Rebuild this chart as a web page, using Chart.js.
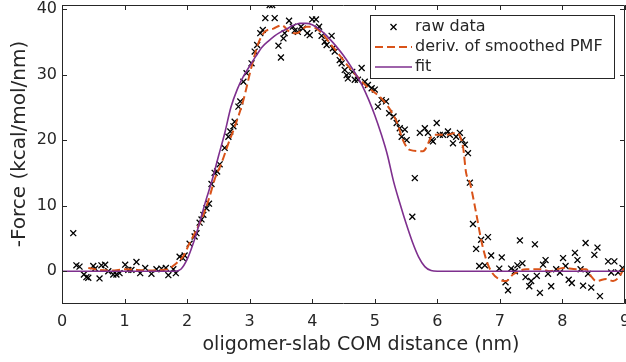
<!DOCTYPE html>
<html lang="en">
<head>
    <meta charset="UTF-8">
    <title>Force profile</title>
    <style>
        html, body { margin: 0; padding: 0; background: #fff; }
        canvas { display: block; }
    </style>
</head>
<body>
    <canvas id="myChart" width="626" height="362"></canvas>

    <script src="https://cdnjs.cloudflare.com/ajax/libs/Chart.js/4.4.1/chart.umd.js"></script>
    <script>
        // raw data (x in nm, y in kcal/mol/nm)
        var rawX = [0.18, 0.23, 0.28, 0.35, 0.39, 0.42, 0.50, 0.53, 0.60, 0.63, 0.69, 0.74, 0.82, 0.87, 0.92,
            1.01, 1.06, 1.11, 1.19, 1.25, 1.33, 1.43, 1.51, 1.59, 1.66, 1.70, 1.78, 1.82, 1.88, 1.93, 1.96,
            2.04, 2.12, 2.15, 2.20, 2.23, 2.26, 2.31, 2.35, 2.39, 2.44, 2.48, 2.52, 2.60, 2.66, 2.69, 2.74,
            2.76, 2.82, 2.85, 2.90, 2.95, 3.03, 3.08, 3.12, 3.17, 3.21, 3.25, 3.32, 3.36, 3.40, 3.46, 3.50,
            3.54, 3.56, 3.63, 3.69, 3.72, 3.77, 3.82, 3.85, 3.92, 3.96, 4.00, 4.06, 4.09, 4.11, 4.15, 4.20,
            4.23, 4.31, 4.33, 4.36, 4.44, 4.47, 4.52, 4.55, 4.57, 4.64, 4.68, 4.73, 4.79, 4.84, 4.89, 4.95,
            5.00, 5.05, 5.11, 5.18, 5.23, 5.30, 5.35, 5.40, 5.43, 5.48, 5.51, 5.60, 5.64, 5.72, 5.80, 5.85,
            5.91, 5.93, 5.99, 6.04, 6.09, 6.17, 6.20, 6.25, 6.30, 6.36, 6.40, 6.44, 6.49, 6.52, 6.57, 6.62,
            6.67, 6.70, 6.76, 6.81, 6.86, 6.99, 7.03, 7.09, 7.13, 7.18, 7.24, 7.28, 7.32, 7.36, 7.41, 7.47,
            7.50, 7.56, 7.59, 7.64, 7.69, 7.73, 7.77, 7.82, 7.90, 7.96, 8.01, 8.05, 8.10, 8.15, 8.20, 8.24,
            8.29, 8.33, 8.37, 8.41, 8.46, 8.51, 8.56, 8.60, 8.73, 8.78, 8.83, 8.89, 8.96];
        var rawY = [5.8, 0.9, 0.7, -0.5, -0.9, -1.0, 0.8, 0.4, -1.1, 0.9, 1.0, 0.0, -0.5, -0.5, -0.3,
            1.0, 0.2, 0.2, 1.4, -0.3, 0.5, -0.4, 0.3, 0.4, 0.5, -0.6, 0.3, -0.3, 2.2, 2.0, 2.4,
            4.2, 5.3, 5.8, 7.4, 7.9, 8.6, 9.6, 10.3, 13.3, 15.0, 15.2, 16.3, 18.8, 20.5, 21.3, 22.1,
            22.8, 25.1, 25.9, 28.9, 30.2, 31.7, 33.5, 34.5, 36.3, 36.8, 38.6, 40.6, 40.6, 38.6, 34.4, 32.6,
            35.5, 36.3, 38.2, 37.3, 36.7, 36.5, 37.3, 37.0, 36.3, 36.0, 38.4, 38.4, 37.0, 37.3, 35.9, 35.0,
            34.5, 35.9, 34.0, 33.5, 32.2, 31.7, 30.7, 29.9, 29.4, 30.4, 29.2, 29.2, 31.0, 28.9, 28.4, 27.9,
            27.7, 25.1, 26.1, 25.9, 24.1, 23.6, 22.6, 21.8, 20.5, 21.6, 20.0, 8.3, 14.2, 21.1, 21.8, 21.1,
            20.0, 19.8, 22.6, 20.8, 20.8, 21.3, 20.8, 19.5, 20.5, 21.1, 20.0, 19.3, 18.0, 13.5, 7.2, 3.4,
            0.8, 4.8, 0.9, 5.2, 2.4, 0.4, 2.1, -1.7, -2.9, 0.4, 0.0, 0.9, 4.7, 1.2, -0.9, -2.3,
            -1.5, 4.1, -0.7, -3.3, 1.0, 1.7, -0.4, -2.3, 0.3, -0.2, 2.0, 0.8, -1.3, -1.8, 2.8, 1.7,
            0.3, -2.2, 4.3, -0.4, -2.5, 2.5, 3.6, -3.8, 1.5, -0.2, 1.5, -0.2, 0.5];

        // derivative of smoothed PMF
        var derivX = [0.42, 0.6, 0.8, 1.0, 1.2, 1.4, 1.6, 1.7, 1.8, 1.86, 1.94, 2.04, 2.15, 2.26, 2.36, 2.44,
            2.55, 2.66, 2.76, 2.90, 3.03, 3.14, 3.24, 3.38, 3.51, 3.64, 3.75, 3.91, 4.07, 4.33, 4.60, 4.87,
            5.13, 5.35, 5.45, 5.56, 5.77, 5.94, 6.15, 6.30, 6.41, 6.46, 6.52, 6.62, 6.70, 6.78, 6.86, 7.00,
            7.10, 7.21, 7.42, 7.64, 7.80, 8.01, 8.22, 8.38, 8.46, 8.54, 8.70, 8.81, 8.91, 9.00];
        var derivY = [0.5, 0.2, 0.1, 0.3, 0.2, 0.1, 0.2, 0.3, 1.0, 1.5, 2.3, 4.3, 6.3, 8.6, 11.4, 14.0,
            16.5, 19.5, 22.0, 26.1, 31.2, 34.8, 36.5, 37.0, 37.5, 36.5, 36.3, 37.3, 37.0, 34.2, 31.0, 28.2,
            26.1, 22.8, 20.0, 18.5, 18.3, 20.8, 20.8, 21.1, 19.0, 15.0, 13.5, 8.9, 4.8, 1.8, 0.0, -1.3,
            -1.5, -0.5, 0.3, 0.3, 0.0, 0.5, 0.3, 0.3, -0.8, -1.5, -1.2, -1.5, -0.8, 0.8];

        // fit
        var fitX = [0, 1.8, 1.9, 2.0, 2.1, 2.2, 2.3, 2.4, 2.5, 2.6, 2.7, 2.8, 2.9, 3.0, 3.1, 3.2, 3.3, 3.4,
            3.5, 3.6, 3.7, 3.8, 3.9, 4.0, 4.1, 4.2, 4.3, 4.4, 4.5, 4.6, 4.7, 4.8, 4.9, 5.0, 5.1, 5.2, 5.3,
            5.4, 5.5, 5.6, 5.7, 5.8, 5.9, 6.0, 9.0];
        var fitY = [0, 0, 0.3, 1.8, 4.3, 7.4, 10.8, 13.9, 17.5, 21.0, 25.0, 27.7, 29.7, 31.3, 32.8, 34.2, 35.1, 35.9,
            36.5, 37.0, 37.5, 37.8, 37.8, 37.6, 37.0, 36.2, 35.2, 34.1, 32.9, 31.5, 30.0, 28.3, 26.2, 23.8, 21.0, 17.8, 13.7,
            10.4, 7.3, 4.5, 2.2, 0.7, 0.1, 0, 0];

        var xTicks = [0, 1, 2, 3, 4, 5, 6, 7, 8, 9];
        var yTicks = [0, 10, 20, 30, 40];
        var legendLabels = ['raw data', 'deriv. of smoothed PMF', 'fit'];
        var xTitle = 'oligomer-slab COM distance (nm)';
        var yTitle = '-Force (kcal/mol/nm)';

        var textColor = '#262626';
        var orange = '#D95319';
        var purple = '#7E2F8E';
        var fontFamily = '"DejaVu Sans", sans-serif';

        function toPoints(xs, ys) {
            var pts = [];
            for (var i = 0; i < xs.length; i++) {
                pts.push({ x: xs[i], y: ys[i] });
            }
            return pts;
        }

        // MATLAB style box with inward ticks, axis titles + legend
        var matlabAxes = {
            id: 'matlabAxes',
            afterDatasetsDraw: function (chart) {
                var ctx = chart.ctx;
                var a = chart.chartArea;
                var sx = chart.scales.x, sy = chart.scales.y;
                var tl = 5;
                ctx.save();
                ctx.strokeStyle = textColor;
                ctx.lineWidth = 1;
                ctx.beginPath();
                ctx.rect(Math.round(a.left) + 0.5, Math.round(a.top) + 0.5,
                    Math.round(a.right - a.left) - 1, Math.round(a.bottom - a.top) - 1);
                xTicks.forEach(function (v) {
                    var px = Math.round(sx.getPixelForValue(v)) + 0.5;
                    ctx.moveTo(px, a.bottom);
                    ctx.lineTo(px, a.bottom - tl);
                    ctx.moveTo(px, a.top);
                    ctx.lineTo(px, a.top + tl);
                });
                yTicks.forEach(function (v) {
                    var py = Math.round(sy.getPixelForValue(v)) + 0.5;
                    ctx.moveTo(a.left, py);
                    ctx.lineTo(a.left + tl, py);
                    ctx.moveTo(a.right, py);
                    ctx.lineTo(a.right - tl, py);
                });
                ctx.stroke();

                // axis titles
                ctx.fillStyle = textColor;
                ctx.textAlign = 'center';
                ctx.textBaseline = 'middle';
                ctx.font = '19px ' + fontFamily;
                ctx.fillText(xTitle, 361, 345);
                ctx.translate(20, 144);
                ctx.rotate(-Math.PI / 2);
                ctx.font = '20px ' + fontFamily;
                ctx.fillText(yTitle, 0, 0);
                ctx.restore();
            },
            afterDraw: function (chart) {
                var ctx = chart.ctx;
                var bx = 370.5, by = 15.5, bw = 244, bh = 63;
                ctx.save();
                ctx.fillStyle = '#fff';
                ctx.fillRect(bx, by, bw, bh);
                ctx.strokeStyle = textColor;
                ctx.lineWidth = 1;
                ctx.strokeRect(bx, by, bw, bh);

                var rows = [27, 47, 67];
                var x0 = 375, x1 = 412;
                // marker
                ctx.strokeStyle = '#000';
                ctx.lineWidth = 1.3;
                ctx.beginPath();
                var mx = (x0 + x1) / 2, my = rows[0], r = 3;
                ctx.moveTo(mx - r, my - r); ctx.lineTo(mx + r, my + r);
                ctx.moveTo(mx - r, my + r); ctx.lineTo(mx + r, my - r);
                ctx.stroke();
                // dashed
                ctx.strokeStyle = orange;
                ctx.lineWidth = 2;
                ctx.setLineDash([8, 4]);
                ctx.beginPath();
                ctx.moveTo(x0, rows[1]); ctx.lineTo(x1, rows[1]);
                ctx.stroke();
                ctx.setLineDash([]);
                // solid
                ctx.strokeStyle = purple;
                ctx.lineWidth = 1.6;
                ctx.beginPath();
                ctx.moveTo(x0, rows[2]); ctx.lineTo(x1, rows[2]);
                ctx.stroke();

                ctx.fillStyle = textColor;
                ctx.font = '16px ' + fontFamily;
                ctx.textBaseline = 'middle';
                ctx.textAlign = 'left';
                for (var i = 0; i < legendLabels.length; i++) {
                    ctx.fillText(legendLabels[i], 415, rows[i]);
                }
                ctx.restore();
            }
        };

        function createChart() {
            var ctx = document.getElementById('myChart').getContext('2d');
            var myChart = new Chart(ctx, {
                type: 'scatter',
                data: {
                    datasets: [
                        {
                            label: legendLabels[0],
                            data: toPoints(rawX, rawY),
                            showLine: false,
                            pointStyle: 'crossRot',
                            pointRadius: 4.2,
                            borderColor: '#000',
                            backgroundColor: '#000',
                            pointBorderWidth: 1.3,
                            order: 3
                        },
                        {
                            label: legendLabels[1],
                            data: toPoints(derivX, derivY),
                            showLine: true,
                            borderColor: orange,
                            borderWidth: 2,
                            borderDash: [8, 4],
                            pointRadius: 0,
                            cubicInterpolationMode: 'monotone',
                            order: 2
                        },
                        {
                            label: legendLabels[2],
                            data: toPoints(fitX, fitY),
                            showLine: true,
                            borderColor: purple,
                            borderWidth: 1.6,
                            pointRadius: 0,
                            cubicInterpolationMode: 'monotone',
                            order: 1
                        }
                    ]
                },
                options: {
                    responsive: false,
                    animation: false,
                    devicePixelRatio: 1,
                    layout: { autoPadding: false, padding: { top: 5, right: 1, left: 0, bottom: 0 } },
                    plugins: {
                        legend: { display: false },
                        tooltip: { enabled: false }
                    },
                    scales: {
                        x: {
                            type: 'linear',
                            min: 0,
                            max: 9,
                            grid: { display: false, drawTicks: false },
                            border: { display: false },
                            afterBuildTicks: function (scale) {
                                scale.ticks = xTicks.map(function (v) { return { value: v }; });
                            },
                            afterFit: function (scale) {
                                scale.height = 58;
                                scale.paddingLeft = 0;
                                scale.paddingRight = 0;
                            },
                            ticks: {
                                color: textColor,
                                font: { family: fontFamily, size: 16 },
                                padding: 8,
                                maxRotation: 0,
                                autoSkip: false
                            }
                        },
                        y: {
                            type: 'linear',
                            min: -5,
                            max: 40.6,
                            grid: { display: false, drawTicks: false },
                            border: { display: false },
                            afterBuildTicks: function (scale) {
                                scale.ticks = yTicks.map(function (v) { return { value: v }; });
                            },
                            afterFit: function (scale) {
                                scale.width = 62;
                                scale.paddingTop = 0;
                                scale.paddingBottom = 0;
                            },
                            ticks: {
                                color: textColor,
                                font: { family: fontFamily, size: 16 },
                                padding: 5
                            }
                        }
                    }
                },
                plugins: [matlabAxes]
            });
        }
        createChart();
    </script>
</body>
</html>
